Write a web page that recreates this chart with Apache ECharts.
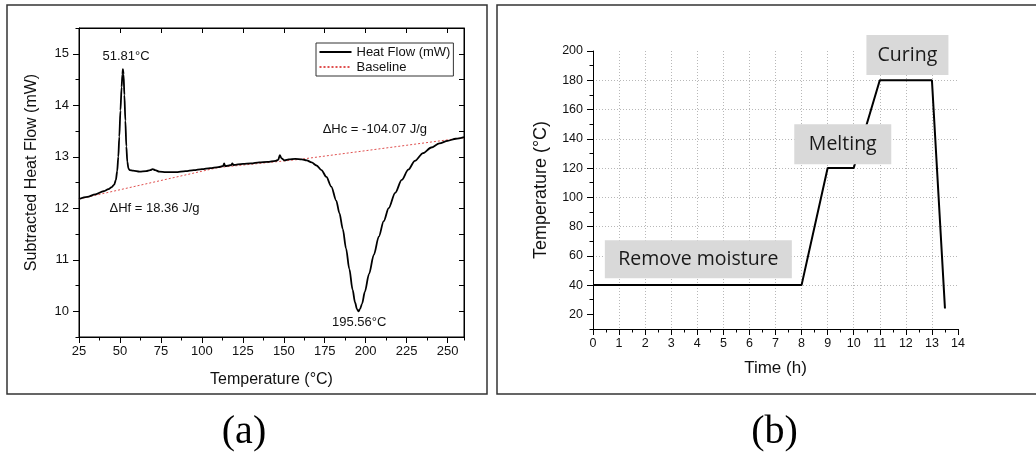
<!DOCTYPE html>
<html>
<head>
<meta charset="utf-8">
<script src="https://cdn.jsdelivr.net/npm/echarts@6/dist/echarts.min.js"></script>
<style>
  html, body { margin: 0; padding: 0; background: #fff; }
  #chart { width: 1036px; height: 454px; }
</style>
</head>
<body>
<div id="chart"></div>
<script>
// ---------- (a) DSC scan ----------
const heatTemp = [25, 30, 35, 40, 43, 45, 46.5, 47.5, 48.3, 49, 49.6, 50.3, 51, 51.5, 51.81, 52.2, 52.7, 53.3, 53.9, 54.5, 55.2, 56, 58, 62, 66, 68.5, 70, 71.5, 74, 78, 84, 90, 95, 100, 105, 110, 113, 113.6, 114.2, 118, 118.6, 119.2, 125, 130, 135, 140, 145, 146.6, 147.6, 148.6, 150.5, 153, 157, 161, 164, 167, 170, 173, 176, 179, 182, 184, 186, 188, 190, 192, 193.5, 194.7, 195.56, 196.5, 197.8, 199.5, 202, 205, 208, 211, 214, 218, 222, 226, 230, 235, 240, 245, 250, 255, 260];
const heatFlow = [12.18, 12.22, 12.27, 12.33, 12.37, 12.41, 12.46, 12.55, 12.72, 13.0, 13.39, 13.9, 14.35, 14.6, 14.70, 14.6, 14.2, 13.7, 13.2, 12.9, 12.77, 12.74, 12.73, 12.71, 12.72, 12.74, 12.76, 12.74, 12.71, 12.70, 12.70, 12.72, 12.74, 12.76, 12.78, 12.80, 12.82, 12.87, 12.82, 12.84, 12.87, 12.84, 12.86, 12.87, 12.89, 12.90, 12.92, 12.94, 13.03, 12.97, 12.93, 12.95, 12.96, 12.95, 12.93, 12.89, 12.83, 12.74, 12.61, 12.42, 12.15, 11.9, 11.6, 11.22, 10.82, 10.42, 10.17, 10.04, 10.0, 10.04, 10.15, 10.38, 10.72, 11.1, 11.45, 11.75, 12.0, 12.3, 12.55, 12.75, 12.92, 13.07, 13.18, 13.26, 13.31, 13.35, 13.38];
const baseTemp = [25, 110, 160, 260];
const baseFlow = [12.18, 12.79, 12.95, 13.37];
const meltPeak = [51.81, 14.70];
const curePeak = [195.56, 10.0];
const fusionEnthalpy = '18.36';
const cureEnthalpy = '-104.07';
const tempTicks = [25, 50, 75, 100, 125, 150, 175, 200, 225, 250];
const flowTicks = [10, 11, 12, 13, 14, 15];

// ---------- (b) cure schedule ----------
const timeH = [0, 8, 9, 10, 11, 13, 13.5];
const ovenTemp = [40, 40, 120, 120, 180, 180, 24];
const timeTicks = [0, 1, 2, 3, 4, 5, 6, 7, 8, 9, 10, 11, 12, 13, 14];
const ovenTicks = [20, 40, 60, 80, 100, 120, 140, 160, 180, 200];
const stageNames = ['Remove moisture', 'Melting', 'Curing'];

const SANS = "'Liberation Sans', Arial, sans-serif";
const INK = '#111';
const AXIS = { color: '#000', width: 1 };
const GRIDLINE = { color: '#b8b8b8', type: [1, 2], width: 1 };

const zip = (a, b) => a.map((v, i) => [v, b[i]]);
const onlyTicks = list => v => (list.some(t => Math.abs(t - v) < 1e-9) ? String(v) : '');

const chart = echarts.init(document.getElementById('chart'), null, { renderer: 'canvas' });

const option = {
  animation: false,
  backgroundColor: '#fff',
  textStyle: { fontFamily: SANS, color: INK },
  grid: [
    { left: 79, right: 572, top: 28, bottom: 117, show: true, borderColor: '#000', borderWidth: 1, backgroundColor: 'transparent' },
    { left: 593, right: 78, top: 51, bottom: 125 }
  ],
  legend: {
    data: ['Heat Flow (mW)', 'Baseline'],
    orient: 'vertical',
    left: 316, top: 43,
    padding: [2.5, 3, 2.5, 2.5],
    itemGap: 2, itemWidth: 32, itemHeight: 14,
    borderColor: '#333', borderWidth: 1, backgroundColor: '#fff',
    itemStyle: { color: 'rgba(0,0,0,0)', borderColor: 'rgba(0,0,0,0)', borderWidth: 0, opacity: 0 },
    textStyle: { fontFamily: SANS, fontSize: 13, color: INK },
    selectedMode: false
  },
  xAxis: [
    { // (a) bottom
      type: 'value', gridIndex: 0, min: 25, max: 260, interval: 25,
      name: 'Temperature (\u00B0C)', nameLocation: 'middle', nameGap: 35,
      nameTextStyle: { fontSize: 16, color: INK, fontFamily: SANS },
      axisLine: { onZero: false, lineStyle: AXIS },
      axisTick: { length: 6, customValues: tempTicks, lineStyle: AXIS },
      axisLabel: { fontSize: 13, color: INK, margin: 8, customValues: tempTicks, formatter: onlyTicks(tempTicks) },
      splitLine: { show: false }
    },
    { // (a) bottom minor ticks
      type: 'value', gridIndex: 0, min: 25, max: 260, interval: 12.5, position: 'bottom',
      axisLine: { show: false, onZero: false },
      axisTick: { length: 3.5, lineStyle: AXIS },
      axisLabel: { show: false }, splitLine: { show: false }
    },
    { // (a) top mirror
      type: 'value', gridIndex: 0, min: 25, max: 260, interval: 25, position: 'top',
      axisLine: { onZero: false, lineStyle: AXIS },
      axisTick: { inside: true, length: 5, customValues: tempTicks, lineStyle: AXIS },
      axisLabel: { show: false }, splitLine: { show: false }
    },
    { // (b) bottom
      type: 'value', gridIndex: 1, min: 0, max: 14, interval: 1,
      name: 'Time (h)', nameLocation: 'middle', nameGap: 31,
      nameTextStyle: { fontSize: 17, color: INK, fontFamily: SANS },
      axisLine: { onZero: false, lineStyle: AXIS },
      axisTick: { length: 6, lineStyle: AXIS },
      minorTick: { show: true, splitNumber: 2, length: 3.5, lineStyle: AXIS },
      axisLabel: { fontSize: 12.5, color: INK, margin: 8, customValues: timeTicks },
      splitLine: { show: true, showMinLine: false, showMaxLine: false, lineStyle: GRIDLINE }
    }
  ],
  yAxis: [
    { // (a) left
      type: 'value', gridIndex: 0, min: 9.5, max: 15.5, splitNumber: 6,
      name: 'Subtracted Heat Flow (mW)', nameLocation: 'middle', nameGap: 39, nameRotate: 90,
      nameTextStyle: { fontSize: 16, color: INK, fontFamily: SANS, padding: [0, 0, 0, 20] },
      axisLine: { onZero: false, lineStyle: AXIS },
      axisTick: { length: 6, customValues: flowTicks, lineStyle: AXIS },
      axisLabel: { fontSize: 13, color: INK, margin: 10, customValues: flowTicks, formatter: onlyTicks(flowTicks) },
      splitLine: { show: false }
    },
    { // (a) left minor ticks
      type: 'value', gridIndex: 0, min: 9.5, max: 15.5, interval: 0.5, position: 'left',
      axisLine: { show: false, onZero: false },
      axisTick: { length: 3.5, lineStyle: AXIS },
      axisLabel: { show: false }, splitLine: { show: false }
    },
    { // (a) right mirror
      type: 'value', gridIndex: 0, min: 9.5, max: 15.5, interval: 0.5, position: 'right',
      axisLine: { onZero: false, lineStyle: AXIS },
      axisTick: { inside: true, length: 5, lineStyle: AXIS },
      axisLabel: { show: false }, splitLine: { show: false }
    },
    { // (b) left
      type: 'value', gridIndex: 1, min: 10, max: 200, splitNumber: 10,
      name: 'Temperature (\u00B0C)', nameLocation: 'middle', nameGap: 43, nameRotate: 90,
      nameTextStyle: { fontSize: 18, color: INK, fontFamily: SANS },
      axisLine: { onZero: false, lineStyle: AXIS },
      axisTick: { length: 6, customValues: ovenTicks, lineStyle: AXIS },
      axisLabel: { fontSize: 12.5, color: INK, margin: 10, customValues: ovenTicks, formatter: onlyTicks(ovenTicks) },
      splitLine: { show: true, showMinLine: false, showMaxLine: false, lineStyle: GRIDLINE }
    },
    { // (b) left minor ticks
      type: 'value', gridIndex: 1, min: 10, max: 200, interval: 10, position: 'left',
      axisLine: { show: false, onZero: false },
      axisTick: { length: 3.5, lineStyle: AXIS },
      axisLabel: { show: false }, splitLine: { show: false }
    }
  ],
  series: [
    {
      name: 'Heat Flow (mW)', type: 'line', xAxisIndex: 0, yAxisIndex: 0,
      data: zip(heatTemp, heatFlow),
      symbol: 'none', smooth: 0.3, smoothMonotone: 'x',
      lineStyle: { color: '#000', width: 1.8 }, itemStyle: { color: '#000' },
      z: 3,
      markPoint: {
        silent: true, symbol: 'circle', symbolSize: 0,
        label: { show: true, position: 'inside', fontFamily: SANS, fontSize: 13, color: INK, formatter: p => p.name },
        data: [
          { name: meltPeak[0] + '\u00B0C', coord: [meltPeak[0] + 1.9, meltPeak[1] + 0.25] },
          { name: curePeak[0] + '\u00B0C', coord: [curePeak[0] + 0.5, curePeak[1] - 0.22] },
          { name: '\u0394Hf = ' + fusionEnthalpy + ' J/g', coord: [71.1, 12.0] },
          { name: '\u0394Hc = ' + cureEnthalpy + ' J/g', coord: [205.6, 13.54] }
        ]
      }
    },
    {
      name: 'Baseline', type: 'line', xAxisIndex: 0, yAxisIndex: 0,
      data: zip(baseTemp, baseFlow),
      symbol: 'none',
      lineStyle: { color: '#e0504f', width: 1, type: [2, 2] }, itemStyle: { color: '#e0504f' },
      z: 2
    },
    {
      name: 'Cure schedule', type: 'line', xAxisIndex: 3, yAxisIndex: 3,
      data: zip(timeH, ovenTemp),
      symbol: 'none',
      lineStyle: { color: '#000', width: 2 },
      z: 3,
      markPoint: {
        silent: true, symbol: 'rect', symbolSize: 0, z: 10,
        label: {
          show: true, position: 'inside', fontFamily: "'Open Sans', 'Noto Sans', sans-serif",
          fontSize: 19.5, color: '#1a1a1a', backgroundColor: '#d9d9d9',
          align: 'center', verticalAlign: 'middle', formatter: p => p.name
        },
        data: [
          { name: stageNames[0], coord: [4.04, 57.6], label: { width: 187, height: 38, lineHeight: 38 } },
          { name: stageNames[1], coord: [9.58, 136.3], label: { width: 97, height: 40, lineHeight: 40 } },
          { name: stageNames[2], coord: [12.06, 197.2], label: { width: 82, height: 40, lineHeight: 40 } }
        ]
      }
    }
  ],
  graphic: [
    { type: 'rect', shape: { x: 7, y: 5, width: 480, height: 389 }, style: { fill: 'none', stroke: '#333', lineWidth: 1.5 }, silent: true },
    { type: 'rect', shape: { x: 497, y: 5, width: 545, height: 389 }, style: { fill: 'none', stroke: '#333', lineWidth: 1.5 }, silent: true },
    { type: 'text', x: 244, y: 432, style: { text: '(a)', font: "40px 'Liberation Serif', 'Times New Roman', serif", fill: '#000', align: 'center', verticalAlign: 'middle' }, silent: true },
    { type: 'text', x: 774.5, y: 432, style: { text: '(b)', font: "40px 'Liberation Serif', 'Times New Roman', serif", fill: '#000', align: 'center', verticalAlign: 'middle' }, silent: true }
  ]
};

chart.setOption(option);
</script>
</body>
</html>
